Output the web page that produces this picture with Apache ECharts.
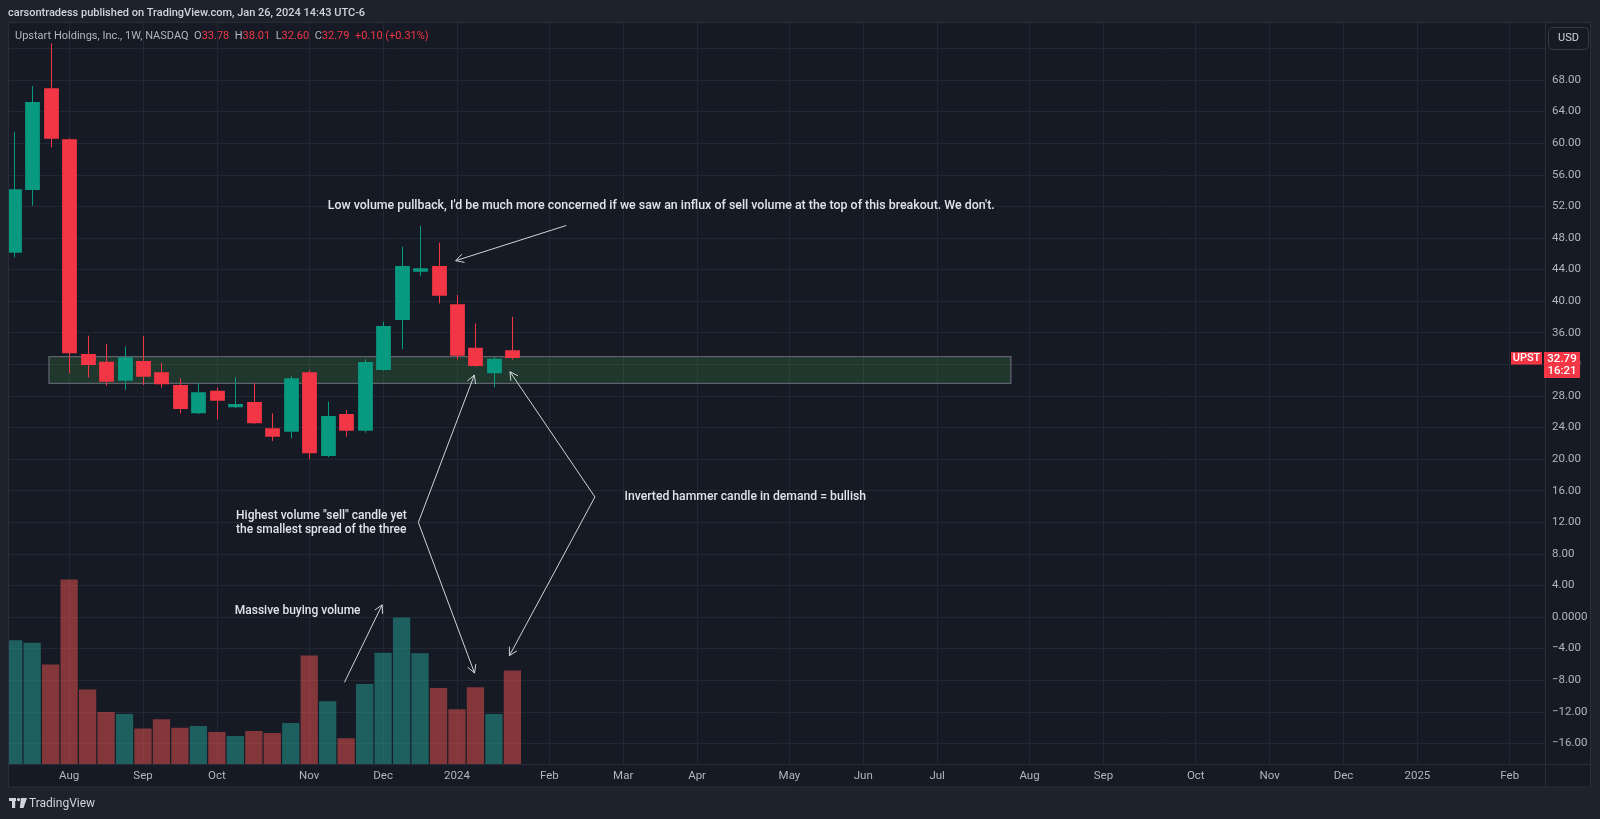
<!DOCTYPE html>
<html><head><meta charset="utf-8">
<script src="https://cdn.jsdelivr.net/npm/echarts@6/dist/echarts.min.js"></script>
<style>html,body{margin:0;padding:0;background:#1e222d;overflow:hidden}#c{width:1600px;height:819px}</style>
</head><body><div id="c"></div>
<script>
// ---------- data ----------
const weeks = ['2023-07-17','2023-07-24','2023-07-31','2023-08-07','2023-08-14','2023-08-21','2023-08-28',
  '2023-09-04','2023-09-11','2023-09-18','2023-09-25','2023-10-02','2023-10-09','2023-10-16','2023-10-23',
  '2023-10-30','2023-11-06','2023-11-13','2023-11-20','2023-11-27','2023-12-04','2023-12-11','2023-12-18',
  '2023-12-25','2024-01-01','2024-01-08','2024-01-15','2024-01-22'];
const opens  = [46.13,54.07,66.95,60.49,33.30,32.33,29.93,32.42,30.98,29.38,25.79,28.66,26.55,27.23,23.89,23.47,30.98,20.39,25.71,23.59,31.28,37.61,43.73,44.45,39.60,34.10,30.86,33.78];
const highs  = [61.45,67.24,72.65,60.60,35.62,34.57,34.23,35.58,32.12,30.22,29.59,29.04,30.35,29.59,25.79,30.52,31.28,27.27,26.21,32.63,37.40,46.89,49.51,47.40,40.78,37.19,32.96,38.01];
const lows   = [45.55,52.08,59.48,30.86,30.35,29.29,28.75,29.38,29.04,25.79,25.70,25.03,26.43,24.45,22.29,22.63,19.97,20.22,22.83,23.34,31.19,33.94,43.18,39.72,32.63,31.70,29.09,32.60];
const closes = [54.16,65.22,60.57,33.39,31.91,29.80,32.88,30.43,29.46,26.34,28.45,27.39,26.97,24.52,22.83,30.22,20.73,25.45,23.59,32.29,36.85,44.45,44.16,40.69,33.09,31.78,32.69,32.79];
const volumes = [46.8,45.9,37.7,69.8,28.2,19.7,19.0,13.5,17.0,13.8,14.5,12.2,10.7,12.6,11.8,15.6,41.1,23.8,9.8,30.3,42.1,55.4,41.9,28.8,20.8,29.1,19.0,35.4]; // millions
const timeTickIndex  = [3,7,11,16,20,24,29,33,37,42,46,50,55,59,64,68,72,76,81];
const timeTickLabels = ['Aug','Sep','Oct','Nov','Dec','2024','Feb','Mar','Apr','May','Jun','Jul','Aug','Sep','Oct','Nov','Dec','2025','Feb'];
const zone = {x0: 1.91, x1: 53.99, top: 32.96, bottom: 29.59};
const notes = [
  {text: "Low volume pullback, I'd be much more concerned if we saw an influx of sell volume at the top of this breakout. We don't.", at: [17.0, 52.1], size: 12.4},
  {text: 'Highest volume "sell" candle yet\nthe smallest spread of the three', at: [12.04, 11.9], size: 12},
  {text: 'Inverted hammer candle in demand = bullish', at: [33.07, 15.2], size: 12.2},
  {text: 'Massive buying volume', at: [11.97, 0.76], size: 12}
];
const arrows = [
  {from: [29.92, 49.58], to: [23.93, 45.12]},
  {from: [21.91, 11.98], to: [24.94, 30.64]},
  {from: [21.91, 11.98], to: [24.95, -7.1]},
  {from: [31.47, 15.2],  to: [26.87, 31.06]},
  {from: [31.47, 15.2],  to: [26.84, -4.9]},
  {from: [17.91, -8.26], to: [19.95, 1.54]}
];

// ---------- styles ----------
const UP = '#089981', DOWN = '#f23645';
const VUP = 'rgba(38,166,154,0.5)', VDOWN = 'rgba(239,83,80,0.5)';
const BG = '#161a25', OUTER = '#1e222d', BORDER = '#2a2e39', GRID = '#232733', TXT = '#b2b5be';
const FONT = 'Roboto, "Liberation Sans", sans-serif';
const XMIN = -0.309, XMAX = 82.91;

const candleData = weeks.map((w, i) => [i, opens[i], closes[i], lows[i], highs[i]]);
const volData = weeks.map((w, i) => [i, volumes[i], closes[i] >= opens[i] ? 1 : -1]);

function priceFmt(v) {
  if (v === 72 || v === 76 || v === -20) return '';
  if (v === 0) return '0.0000';
  return (v < 0 ? '\u2212' : '') + Math.abs(v).toFixed(2);
}

const chart = echarts.init(document.getElementById('c'), null, {renderer: 'canvas'});
chart.setOption({
  backgroundColor: BG,
  animation: false,
  grid: [
    {left: 8, right: 55, top: 16.83, bottom: 44.06},
    {left: 8, right: 55, top: 22.7, bottom: 54.7}
  ],
  xAxis: [
    {type: 'value', gridIndex: 0, min: XMIN, max: XMAX, show: false},
    {type: 'value', gridIndex: 1, min: XMIN, max: XMAX,
      axisLine: {show: false}, axisTick: {show: false, customValues: timeTickIndex},
      axisLabel: {customValues: timeTickIndex, color: TXT, fontSize: 11.5, fontFamily: FONT, margin: 6,
        formatter: v => { const k = timeTickIndex.indexOf(Math.round(v)); return k >= 0 ? timeTickLabels[k] : ''; }},
      splitLine: {show: true, lineStyle: {color: GRID, width: 1}}}
  ],
  yAxis: [
    {type: 'value', gridIndex: 0, position: 'right', min: -20, max: 76, interval: 4,
      axisLine: {show: false}, axisTick: {show: false},
      axisLabel: {color: TXT, fontSize: 11.5, fontFamily: FONT, margin: 7, showMinLabel: false, showMaxLabel: false, formatter: priceFmt},
      splitLine: {show: true, showMinLine: false, showMaxLine: false, lineStyle: {color: GRID, width: 1}}},
    {type: 'value', gridIndex: 1, min: 0, max: 280, show: false}
  ],
  series: [
    {type: 'line', xAxisIndex: 0, yAxisIndex: 0, data: [], silent: true, z: 1,
      markArea: {silent: true, itemStyle: {color: 'rgba(76,175,80,0.2)', borderColor: '#5e626d', borderWidth: 1.3},
        data: [[{xAxis: zone.x0, yAxis: zone.top}, {xAxis: zone.x1, yAxis: zone.bottom}]]}},
    {type: 'custom', name: 'Volume', xAxisIndex: 1, yAxisIndex: 1, data: volData, z: 2, clip: true,
      encode: {x: 0, y: 1},
      renderItem: (params, api) => {
        const i = api.value(0), v = api.value(1), d = api.value(2);
        const p0 = api.coord([i - 0.468, v]);
        const p1 = api.coord([i + 0.468, 0]);
        return {type: 'rect', shape: {x: p0[0], y: p0[1], width: p1[0] - p0[0], height: p1[1] - p0[1]},
          style: {fill: d > 0 ? VUP : VDOWN}};
      }},
    {type: 'custom', name: 'UPST', xAxisIndex: 0, yAxisIndex: 0, data: candleData, z: 3, clip: true,
      encode: {x: 0, y: [1, 2, 3, 4]},
      renderItem: (params, api) => {
        const i = api.value(0), o = api.value(1), c = api.value(2), l = api.value(3), h = api.value(4);
        const pO = api.coord([i, o]), pC = api.coord([i, c]), pL = api.coord([i, l]), pH = api.coord([i, h]);
        const w = api.size([1, 0])[0] * 0.8;
        const col = c >= o ? UP : DOWN;
        const x = Math.round(pO[0]) + 0.5;
        const top = Math.min(pO[1], pC[1]), bot = Math.max(pO[1], pC[1]);
        return {type: 'group', children: [
          {type: 'line', shape: {x1: x, y1: pH[1], x2: x, y2: pL[1]}, style: {stroke: col, lineWidth: 1}},
          {type: 'rect', shape: {x: x - w / 2, y: top, width: w, height: Math.max(bot - top, 1.5)}, style: {fill: col}}
        ]};
      }}
  ]
});

// ---------- overlay graphics (frame, header, annotations) ----------
function px(pt) { return chart.convertToPixel({gridIndex: 0}, pt); }
const g = [];
g.push({type: 'rect', shape: {x: 0, y: 0, width: 1600, height: 22.7}, style: {fill: OUTER}, z: 50});
g.push({type: 'rect', shape: {x: 0, y: 787, width: 1600, height: 32}, style: {fill: OUTER}, z: 50});
g.push({type: 'rect', shape: {x: 0, y: 0, width: 8, height: 819}, style: {fill: OUTER}, z: 50});
g.push({type: 'rect', shape: {x: 1591, y: 0, width: 9, height: 819}, style: {fill: OUTER}, z: 50});
g.push({type: 'rect', shape: {x: 8.5, y: 22.5, width: 1582, height: 764.5}, style: {fill: null, stroke: BORDER, lineWidth: 1}, z: 51});
g.push({type: 'line', shape: {x1: 8, y1: 764.5, x2: 1591, y2: 764.5}, style: {stroke: BORDER, lineWidth: 1}, z: 51});
g.push({type: 'line', shape: {x1: 1545.5, y1: 22.7, x2: 1545.5, y2: 787}, style: {stroke: BORDER, lineWidth: 1}, z: 51});
g.push({type: 'text', x: 8, y: 13, z: 52, style: {text: 'carsontradess published on TradingView.com, Jan 26, 2024 14:43 UTC-6',
  fill: '#d1d4dc', font: '500 11px ' + FONT, verticalAlign: 'middle'}});
const n = closes.length - 1;
const chg = closes[n] - closes[n - 1];
const pct = chg / closes[n - 1] * 100;
const sgn = chg >= 0 ? '+' : '\u2212';
const F2 = '11px ' + FONT;
g.push({type: 'text', x: 15, y: 36, z: 52, style: {
  text: '{g|Upstart Holdings, Inc., 1W, NASDAQ  O}{r|' + opens[n].toFixed(2) + '}{g|  H}{r|' + highs[n].toFixed(2) +
        '}{g|  L}{r|' + lows[n].toFixed(2) + '}{g|  C}{r|' + closes[n].toFixed(2) + '}{r|  ' + sgn + Math.abs(chg).toFixed(2) +
        ' (' + sgn + Math.abs(pct).toFixed(2) + '%)}',
  verticalAlign: 'middle', font: F2,
  rich: {g: {fill: TXT, font: F2}, r: {fill: DOWN, font: F2}}}});
g.push({type: 'rect', z: 52, shape: {x: 1548.5, y: 27.5, width: 40, height: 22, r: 4}, style: {fill: BG, stroke: '#363a45', lineWidth: 1}});
g.push({type: 'text', z: 53, x: 1568.5, y: 38.5, style: {text: 'USD', fill: '#d1d4dc', font: '11px ' + FONT, align: 'center', verticalAlign: 'middle'}});
const py = px([0, closes[n]])[1];
g.push({type: 'rect', z: 52, shape: {x: 1511, y: py - 6, width: 31, height: 12.5}, style: {fill: DOWN}});
g.push({type: 'text', z: 53, x: 1526.5, y: py + 0.3, style: {text: 'UPST', fill: '#ffffff', font: '500 11px ' + FONT, align: 'center', verticalAlign: 'middle'}});
g.push({type: 'rect', z: 52, shape: {x: 1544, y: py - 6, width: 36, height: 26}, style: {fill: DOWN}});
g.push({type: 'text', z: 53, x: 1562, y: py + 1, style: {text: closes[n].toFixed(2), fill: '#ffffff', font: '500 11.5px ' + FONT, align: 'center', verticalAlign: 'middle'}});
g.push({type: 'text', z: 53, x: 1562, y: py + 13, style: {text: '16:21', fill: '#ffffff', font: '500 11.5px ' + FONT, align: 'center', verticalAlign: 'middle'}});
g.push({type: 'group', z: 52, children: [
  {type: 'rect', shape: {x: 9, y: 798, width: 7, height: 3}, style: {fill: '#d1d4dc'}, z: 52},
  {type: 'rect', shape: {x: 12, y: 798, width: 3.2, height: 10}, style: {fill: '#d1d4dc'}, z: 52},
  {type: 'circle', shape: {cx: 18.6, cy: 799.6, r: 1.7}, style: {fill: '#d1d4dc'}, z: 52},
  {type: 'polygon', shape: {points: [[21, 798], [27, 798], [23.5, 808], [19.8, 808]]}, style: {fill: '#d1d4dc'}, z: 52}
]});
g.push({type: 'text', z: 52, x: 29, y: 803.5, style: {text: 'TradingView', fill: '#d1d4dc', font: '12px ' + FONT, verticalAlign: 'middle'}});
notes.forEach(nt => {
  const p = px(nt.at);
  g.push({type: 'text', z: 40, x: p[0], y: p[1], style: {text: nt.text, fill: '#e0e3eb', font: '500 ' + nt.size + 'px ' + FONT,
    verticalAlign: 'middle', lineHeight: 14}});
});
arrows.forEach(a => {
  const p0 = px(a.from), p1 = px(a.to);
  const ang = Math.atan2(p0[1] - p1[1], p0[0] - p1[0]);
  const L = 9, s = 0.5;
  const h1 = [p1[0] + L * Math.cos(ang + s), p1[1] + L * Math.sin(ang + s)];
  const h2 = [p1[0] + L * Math.cos(ang - s), p1[1] + L * Math.sin(ang - s)];
  g.push({type: 'line', z: 40, shape: {x1: p0[0], y1: p0[1], x2: p1[0], y2: p1[1]}, style: {stroke: '#d1d4dc', lineWidth: 1}});
  g.push({type: 'polyline', z: 40, shape: {points: [h1, p1, h2]}, style: {stroke: '#d1d4dc', lineWidth: 1, fill: null}});
});
chart.setOption({graphic: {elements: g}});
</script>
</body></html>
